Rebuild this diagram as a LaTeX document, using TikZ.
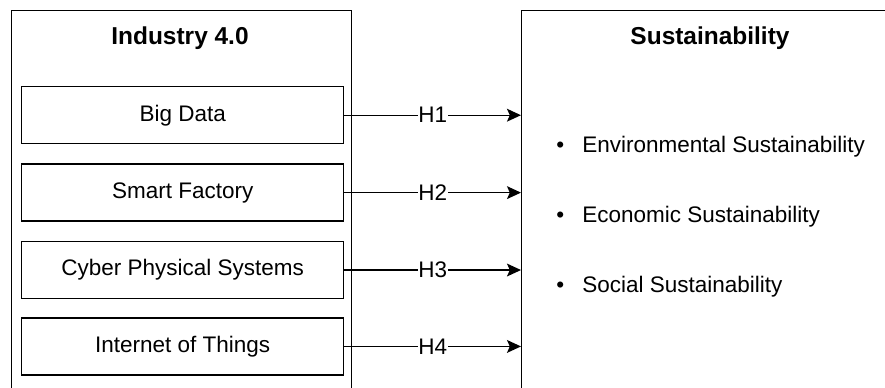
\documentclass[tikz,border=0pt]{standalone}
\usepackage{fontspec}
\setmainfont{Liberation Sans}
\usetikzlibrary{positioning,arrows.meta}

\begin{document}
\begin{tikzpicture}[x=0.25mm,y=-0.25mm,
  font=\fontsize{16}{19}\selectfont,
  frame/.style={draw=black,line width=1pt,inner sep=0pt,anchor=north west},
  factor/.style={draw=black,line width=1pt,minimum width=80.5mm,minimum height=14.25mm,inner sep=0pt},
  head/.style={font=\fontsize{17.4}{21}\selectfont\bfseries},
  hyp/.style={fill=white,inner sep=0.5pt},
  item/.style={anchor=west,inner sep=0pt,label={[inner sep=0pt,label distance=4.4mm]left:\textbullet}},
  >={Stealth[length=3.5mm,width=3.2mm,inset=0.7mm]}]
  \clip (0,0) rectangle (885,387);
  % containers
  \node[frame,minimum width=85mm,minimum height=96.5mm] (ind) at (11,10) {};
  \node[frame,minimum width=93.5mm,minimum height=96.5mm] (sus) at (521,10) {};
  \node[head] (indt) at (180,38) {Industry 4.0};
  \node[head] (sust) at (710,38) {Sustainability};
  % industry 4.0 dimensions
  \node[factor,anchor=north west] (bd) at (21,86) {Big Data};
  \node[factor,below=4.75mm of bd] (sf) {Smart Factory};
  \node[factor,below=4.75mm of sf] (cps) {Cyber Physical Systems};
  \node[factor,below=4.5mm of cps] (iot) {Internet of Things};
  % sustainability dimensions
  \node[item] (env) at (582,147) {Environmental Sustainability};
  \node[item] (eco) at (582,217) {Economic Sustainability};
  \node[item] (soc) at (582,287) {Social Sustainability};
  % hypotheses
  \draw[->,line width=1pt] (bd.east) -- node[hyp]{H1} (bd.east -| sus.west);
  \draw[->,line width=1pt] (sf.east) -- node[hyp]{H2} (sf.east -| sus.west);
  \draw[->,line width=1pt] (cps.east) -- node[hyp]{H3} (cps.east -| sus.west);
  \draw[->,line width=1pt] (iot.east) -- node[hyp]{H4} (iot.east -| sus.west);
\end{tikzpicture}
\end{document}
